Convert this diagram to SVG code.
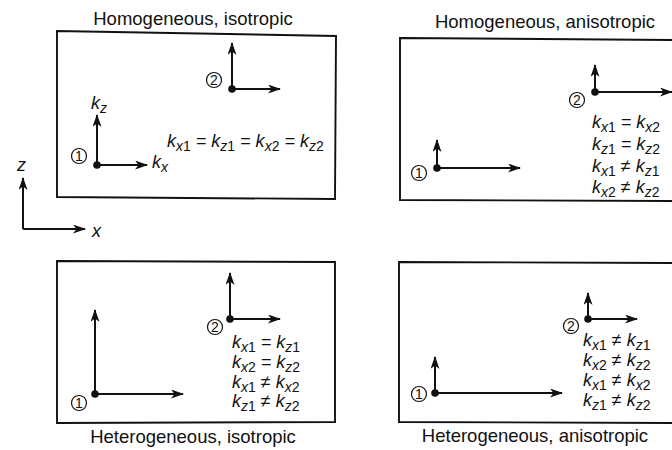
<svg xmlns="http://www.w3.org/2000/svg" width="672" height="450" viewBox="0 0 672 450">
<style>
.box{fill:none;stroke:#111;stroke-width:1.9}
.ax{fill:none;stroke:#111;stroke-width:2;marker-end:url(#ah)}
.dot{fill:#111}
.cn{fill:none;stroke:#111;stroke-width:1.2}
.cnt{font-family:"Liberation Sans",Arial,sans-serif;font-size:14px;fill:#111;text-anchor:middle}
.title{font-family:"Liberation Sans",Arial,sans-serif;font-size:18.5px;fill:#111;text-anchor:middle}
.eq{font-family:"Liberation Sans",Arial,sans-serif;font-size:18px;font-style:italic;fill:#111}
.sb{font-size:14px}
.n{font-style:normal}
</style>
<defs>
<marker id="ah" markerWidth="13" markerHeight="9" refX="12" refY="4.5" orient="auto" markerUnits="userSpaceOnUse">
<path d="M0,0 L13,4.5 L0,9 L3.5,4.5 z" fill="#111"/>
</marker>
</defs>
<rect width="672" height="450" fill="#fff"/>

<g id="axes">
<polyline class="ax" points="23,229 23,178"/>
<polyline class="ax" points="23,229 85,229"/>
<text class="eq" x="17" y="171">z</text>
<text class="eq" x="92" y="237">x</text>
</g>

<g id="panel-homogeneous-isotropic">
<polygon class="box" points="57,31 336,36 335,199 57,197"/>
<text class="title" x="193" y="25">Homogeneous, isotropic</text>
<circle class="dot" cx="97" cy="165" r="3.8"/>
<circle class="cn" cx="79" cy="156" r="7.5"/><text class="cnt" x="79" y="161">1</text>
<circle class="dot" cx="232" cy="89" r="3.8"/>
<circle class="cn" cx="214" cy="80" r="7.5"/><text class="cnt" x="214" y="85">2</text>
<text class="eq" x="91" y="109">k<tspan class="sb" dy="4">z</tspan></text>
<text class="eq" x="152" y="168">k<tspan class="sb" dy="4">x</tspan></text>
<text class="eq" x="167" y="147">k<tspan class="sb" dy="4">x<tspan class="n">1</tspan></tspan><tspan dy="-4"> = k</tspan><tspan class="sb" dy="4">z<tspan class="n">1</tspan></tspan><tspan dy="-4"> = k</tspan><tspan class="sb" dy="4">x<tspan class="n">2</tspan></tspan><tspan dy="-4"> = k</tspan><tspan class="sb" dy="4">z<tspan class="n">2</tspan></tspan></text>
</g>

<g id="panel-homogeneous-anisotropic">
<polygon class="box" points="400,38 673,40 673,201 400,200"/>
<text class="title" x="545" y="28">Homogeneous, anisotropic</text>
<circle class="dot" cx="437" cy="168" r="3.8"/>
<circle class="cn" cx="419" cy="173" r="7.5"/><text class="cnt" x="419" y="178">1</text>
<circle class="dot" cx="595" cy="92" r="3.8"/>
<circle class="cn" cx="577" cy="100" r="7.5"/><text class="cnt" x="577" y="105">2</text>
<text class="eq" x="592" y="128">k<tspan class="sb" dy="4">x<tspan class="n">1</tspan></tspan><tspan dy="-4"> = k</tspan><tspan class="sb" dy="4">x<tspan class="n">2</tspan></tspan></text>
<text class="eq" x="592" y="150">k<tspan class="sb" dy="4">z<tspan class="n">1</tspan></tspan><tspan dy="-4"> = k</tspan><tspan class="sb" dy="4">z<tspan class="n">2</tspan></tspan></text>
<text class="eq" x="592" y="172">k<tspan class="sb" dy="4">x<tspan class="n">1</tspan></tspan><tspan dy="-4"> ≠ k</tspan><tspan class="sb" dy="4">z<tspan class="n">1</tspan></tspan></text>
<text class="eq" x="592" y="193">k<tspan class="sb" dy="4">x<tspan class="n">2</tspan></tspan><tspan dy="-4"> ≠ k</tspan><tspan class="sb" dy="4">z<tspan class="n">2</tspan></tspan></text>
</g>

<g id="panel-heterogeneous-isotropic">
<polygon class="box" points="57,261 335,262 335,422 57,423"/>
<text class="title" x="193" y="443">Heterogeneous, isotropic</text>
<circle class="dot" cx="95" cy="394" r="3.8"/>
<circle class="cn" cx="79" cy="403" r="7.5"/><text class="cnt" x="79" y="408">1</text>
<circle class="dot" cx="230" cy="319" r="3.8"/>
<circle class="cn" cx="215" cy="327" r="7.5"/><text class="cnt" x="215" y="332">2</text>
<text class="eq" x="232" y="348">k<tspan class="sb" dy="4">x<tspan class="n">1</tspan></tspan><tspan dy="-4"> = k</tspan><tspan class="sb" dy="4">z<tspan class="n">1</tspan></tspan></text>
<text class="eq" x="232" y="368">k<tspan class="sb" dy="4">x<tspan class="n">2</tspan></tspan><tspan dy="-4"> = k</tspan><tspan class="sb" dy="4">z<tspan class="n">2</tspan></tspan></text>
<text class="eq" x="232" y="388">k<tspan class="sb" dy="4">x<tspan class="n">1</tspan></tspan><tspan dy="-4"> ≠ k</tspan><tspan class="sb" dy="4">x<tspan class="n">2</tspan></tspan></text>
<text class="eq" x="232" y="407">k<tspan class="sb" dy="4">z<tspan class="n">1</tspan></tspan><tspan dy="-4"> ≠ k</tspan><tspan class="sb" dy="4">z<tspan class="n">2</tspan></tspan></text>
</g>

<g id="panel-heterogeneous-anisotropic">
<polygon class="box" points="399,262 673,263 673,423 399,422"/>
<text class="title" x="535" y="442">Heterogeneous, anisotropic</text>
<circle class="dot" cx="435" cy="393" r="3.8"/>
<circle class="cn" cx="419" cy="394" r="7.5"/><text class="cnt" x="419" y="399">1</text>
<circle class="dot" cx="588" cy="319" r="3.8"/>
<circle class="cn" cx="571" cy="326" r="7.5"/><text class="cnt" x="571" y="331">2</text>
<text class="eq" x="583" y="346">k<tspan class="sb" dy="4">x<tspan class="n">1</tspan></tspan><tspan dy="-4"> ≠ k</tspan><tspan class="sb" dy="4">z<tspan class="n">1</tspan></tspan></text>
<text class="eq" x="583" y="366">k<tspan class="sb" dy="4">x<tspan class="n">2</tspan></tspan><tspan dy="-4"> ≠ k</tspan><tspan class="sb" dy="4">z<tspan class="n">2</tspan></tspan></text>
<text class="eq" x="583" y="386">k<tspan class="sb" dy="4">x<tspan class="n">1</tspan></tspan><tspan dy="-4"> ≠ k</tspan><tspan class="sb" dy="4">x<tspan class="n">2</tspan></tspan></text>
<text class="eq" x="583" y="406">k<tspan class="sb" dy="4">z<tspan class="n">1</tspan></tspan><tspan dy="-4"> ≠ k</tspan><tspan class="sb" dy="4">z<tspan class="n">2</tspan></tspan></text>
</g>

<g id="connectors">
<line class="ax" x1="97" y1="165" x2="97" y2="115"/>
<line class="ax" x1="97" y1="165" x2="147" y2="165"/>
<line class="ax" x1="232" y1="89" x2="232" y2="43"/>
<line class="ax" x1="232" y1="89" x2="280" y2="89"/>
<line class="ax" x1="437" y1="168" x2="437" y2="140"/>
<line class="ax" x1="437" y1="168" x2="520" y2="168"/>
<line class="ax" x1="595" y1="92" x2="595" y2="65"/>
<line class="ax" x1="595" y1="92" x2="672" y2="92"/>
<line class="ax" x1="95" y1="394" x2="95" y2="310"/>
<line class="ax" x1="95" y1="394" x2="183" y2="394"/>
<line class="ax" x1="230" y1="319" x2="230" y2="273"/>
<line class="ax" x1="230" y1="319" x2="280" y2="319"/>
<line class="ax" x1="435" y1="393" x2="435" y2="357"/>
<line class="ax" x1="435" y1="393" x2="562" y2="393"/>
<line class="ax" x1="588" y1="319" x2="588" y2="293"/>
<line class="ax" x1="588" y1="319" x2="637" y2="319"/>
</g>
</svg>
